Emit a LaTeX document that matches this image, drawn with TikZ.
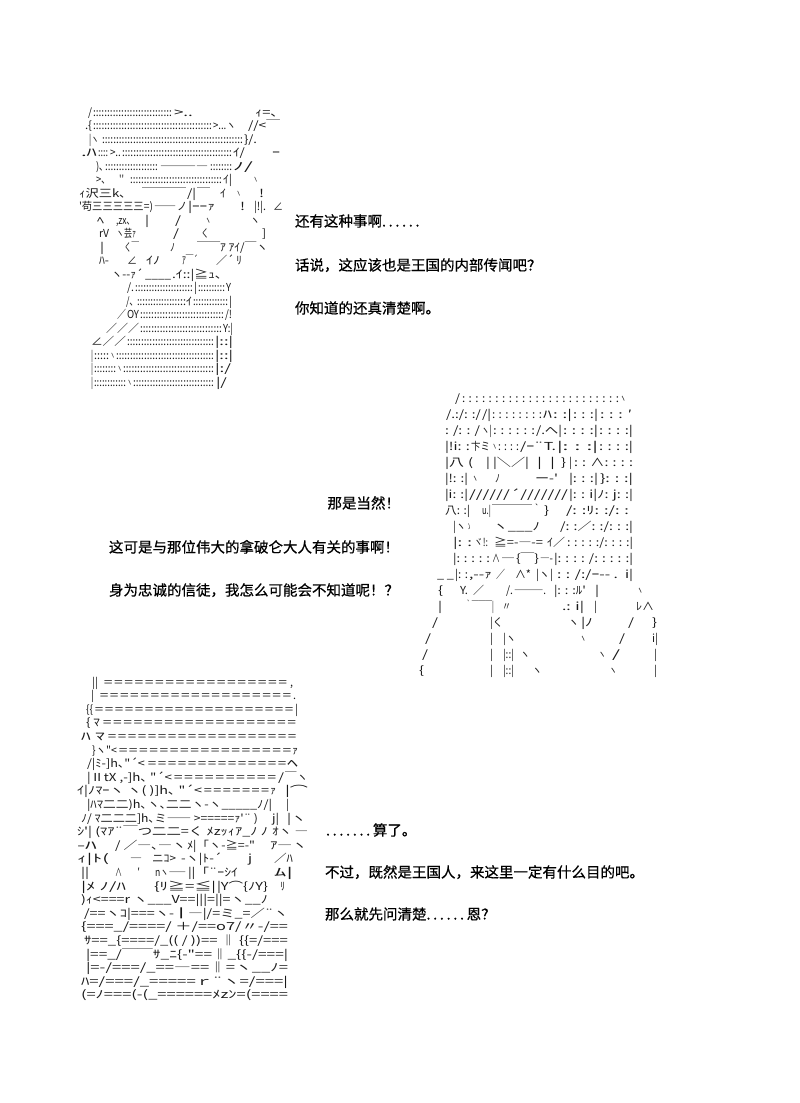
\documentclass[tikz,border=0pt]{standalone}
\usepackage{fontspec}
\usepackage{graphicx}
\newfontfamily\aafam{Noto Sans CJK JP}
\newfontfamily\zhfam[FakeBold=0.6]{Noto Sans CJK SC}
\newcommand\aafont{\aafam\fontsize{11pt}{13pt}\selectfont}
\newcommand\sayfont{\zhfam\fontsize{14.5pt}{17pt}\selectfont}
\newcommand\dt{\makebox[6.7pt][l]{.}}
\ExplSyntaxOn
\NewDocumentCommand\colons{m}{\prg_replicate:nn{#1}{:}}
\NewDocumentCommand\scol{m}{:\prg_replicate:nn{#1-1}{~:}}
\NewDocumentCommand\eqs{m}{\prg_replicate:nn{#1}{＝}}
\ExplSyntaxOff
\newcounter{nn}
\newcommand\seg[4]{%
  \pgfmathsetmacro\aaw{(#2)-(#1)}%
  \stepcounter{nn}%
  \node[aa] (aa\arabic{nn}) at ({#1},{-(#3)-4}) {\resizebox*{\aaw pt}{\totalheight}{#4}};}
\newcommand\A[4]{\seg{#1}{#2}{112+13.5*(#3-1)}{#4}}
\newcommand\B[4]{\seg{#1}{#2}{398+16*(#3-1)}{#4}}
\newcommand\C[4]{\seg{#1}{#2}{682+13.6*(#3-1)}{#4}}
\tikzset{
  aa/.style={anchor=base west, inner sep=0pt, outer sep=0pt, text=black!90, font=\aafont},
  say/.style={inner sep=0pt, outer sep=0pt, font=\sayfont, text=black}
}
\begin{document}
\begin{tikzpicture}[x=1pt,y=1pt]
\useasboundingbox (0,0) rectangle (800,-1103);
\fill[white] (0,0) rectangle (800,-1103);
% ---------------- AA 1 ----------------
\A{88}{92}{1}{/}\A{93}{172}{1}{\colons{28}}\A{174}{193}{1}{>..}\A{255}{278}{1}{ｨ=､}
\A{85}{92}{2}{.\{}\A{93}{212}{2}{\colons{42}}\A{213}{236}{2}{>...ヽ}\A{248}{280}{2}{//<￣}
\A{89}{99}{3}{|ヽ}\A{102}{243}{3}{\colons{50}}\A{244}{257}{3}{\}/.}
\A{81}{97}{4}{.ﾊ}\A{98}{108}{4}{\colons{4}}\A{110}{121}{4}{>..}\A{122}{232}{4}{\colons{39}}\A{233}{245}{4}{ｲ/}\A{272}{280}{4}{ｰ}
\A{96}{104}{5}{)､}\A{105}{158}{5}{\colons{19}}\A{160}{208}{5}{――――}\A{210}{232}{5}{\colons{8}}\A{233}{253}{5}{ﾉ/}
\A{96}{106}{6}{>､}\A{119}{124}{6}{''}\A{130}{222}{6}{\colons{33}}\A{223}{232}{6}{ｲ|}\A{253}{258}{6}{ヽ}
\A{79}{126}{7}{ｨ沢三k､}\A{142}{186}{7}{￣￣￣￣}\A{187}{196}{7}{/|}\A{197}{210}{7}{￣}\A{220}{226}{7}{ｲ}\A{236}{241}{7}{ヽ}\A{259}{264}{7}{!}
\A{79}{153}{8}{'苟三三三三三=)}\A{154}{176}{8}{――}\A{177}{187}{8}{ノ}\A{188}{215}{8}{|ｰｰｧ}\A{240}{245}{8}{!}\A{254}{266}{8}{|!|.}\A{273}{283}{8}{∠}
\A{97}{104}{9}{ﾍ}\A{116}{131}{9}{,zx､}\A{145}{149}{9}{|}\A{175}{181}{9}{/}\A{205}{211}{9}{ヽ}\A{250}{260}{9}{ヽ}
\A{99}{109}{10}{rV}\A{116}{136}{10}{ヽ芸ｧ}\A{173}{179}{10}{/}\A{201}{209}{10}{く}\A{262}{266}{10}{]}
\A{100}{104}{11}{|}\A{124}{139}{11}{く￣}\A{170}{175}{11}{ﾉ}\A{197}{268}{11}{￣￣ｱ ｱｲ/￣ヽ}
\A{99}{109}{12}{ﾊ-}\A{127}{137}{12}{∠}\A{146}{160}{12}{ｲﾉ}\A{182}{198}{12}{ｱ￣´}\A{216}{242}{12}{／´ ﾘ}
\A{111}{143}{13}{ヽ--ｧ´}\A{145}{171}{13}{\_\_\_\_}\A{172}{222}{13}{.ｲ::|≧ｭ､}
\A{127}{134}{14}{/.}\A{135}{193}{14}{\colons{21}}\A{194}{197}{14}{|}\A{198}{225}{14}{\colons{10}}\A{226}{231}{14}{Y}
\A{126}{134}{15}{/､}\A{137}{180}{15}{\colons{16}}\A{180}{186}{15}{::}\A{186}{192}{15}{ｲ}\A{193}{228}{15}{\colons{13}}\A{229}{232}{15}{|}
\A{117}{126}{16}{／}\A{127}{139}{16}{OY}\A{140}{224}{16}{\colons{30}}\A{225}{232}{16}{/!}
\A{106}{139}{17}{／／／}\A{140}{222}{17}{\colons{29}}\A{223}{233}{17}{Y:|}
\A{91}{126}{18}{∠／／}\A{127}{214}{18}{\colons{31}}\A{215}{233}{18}{|::|}
\A{91}{93}{19}{|}\A{94}{109}{19}{\colons{5}}\A{110}{115}{19}{ヽ}\A{116}{214}{19}{\colons{35}}\A{215}{233}{19}{|::|}
\A{91}{93}{20}{|}\A{94}{116}{20}{\colons{8}}\A{117}{122}{20}{ヽ}\A{123}{214}{20}{\colons{32}}\A{215}{231}{20}{|:/}
\A{91}{93}{21}{|}\A{94}{126}{21}{\colons{12}}\A{127}{132}{21}{ヽ}\A{133}{214}{21}{\colons{29}}\A{216}{227}{21}{|/}
% ---------------- AA 2 ----------------
\B{455}{460}{1}{/}\B{462}{619}{1}{\scol{24}}\B{620}{626}{1}{ヽ}
\B{446}{481}{2}{/.:/: :/}\B{482}{491}{2}{/|}\B{492}{542}{2}{\scol{8}}\B{543}{552}{2}{ﾊ}\B{553}{572}{2}{: :|}\B{573}{598}{2}{: : :|}\B{600}{632}{2}{: : : ′}
\B{445}{480}{3}{: /: : /}\B{481}{492}{3}{ヽ|}\B{493}{535}{3}{\scol{6}}\B{536}{562}{3}{/.へ|}\B{563}{598}{3}{: : : :|}\B{599}{633}{3}{: : : :|}
\B{445}{470}{4}{|!i: :}\B{471}{490}{4}{卞ミ}\B{492}{497}{4}{ヽ}\B{498}{519}{4}{: : : :}\B{520}{556}{4}{/ｰ¨T.}\B{557}{598}{4}{|: : :|}\B{599}{633}{4}{: : : :|}
\B{445}{464}{5}{|八}\B{468}{473}{5}{(}\B{486}{529}{5}{|\ |＼／|}\B{537}{555}{5}{|\ \ |}\B{561}{566}{5}{\}}\B{569}{572}{5}{|}\B{574}{633}{5}{: : ∧: : : :}
\B{445}{468}{6}{|!: :|}\B{472}{478}{6}{ヽ}\B{495}{500}{6}{ﾉ}\B{535}{558}{6}{ー-'}\B{569}{598}{6}{|: : :|}\B{600}{633}{6}{\}: : :|}
\B{445}{468}{7}{|i: :|}\B{469}{568}{7}{//////´///////}\B{569}{633}{7}{|: : i|ﾉ: j: :|}
\B{445}{470}{8}{八: :|}\B{482}{491}{8}{u.|}\B{492}{542}{8}{￣￣￣￣｀}\B{544}{549}{8}{\}}\B{566}{629}{8}{/: :ﾘ: :/: :}
\B{453}{466}{9}{|ヽ}\B{467}{471}{9}{ゝ}\B{493}{540}{9}{ヽ\_\_\_ﾉ}\B{560}{633}{9}{/: :／: :/: : :|}
\B{453}{472}{10}{|: :}\B{474}{488}{10}{ヾ!:}\B{494}{543}{10}{≧=-―-=}\B{547}{565}{10}{ｲ／}\B{567}{633}{10}{: : : : :/: : : :|}
\B{453}{490}{11}{|: : : : :}\B{492}{500}{11}{∧}\B{501}{515}{11}{―}\B{516}{539}{11}{\{￣\}}\B{540}{553}{11}{―-}\B{554}{633}{11}{|: : : : /: : : : :|}
\B{437}{454}{12}{\_ \_}\B{455}{468}{12}{|: :}\B{469}{492}{12}{,--ｧ}\B{496}{505}{12}{／}\B{515}{531}{12}{∧*}\B{536}{553}{12}{|ヽ|}\B{557}{618}{12}{: : /:/ｰ-- .}\B{625}{633}{12}{i|}
\B{438}{443}{13}{\{}\B{460}{468}{13}{Y.}\B{473}{484}{13}{／}\B{506}{513}{13}{/.}\B{514}{546}{13}{―――.}\B{554}{586}{13}{|: : :ﾙ'}\B{595}{599}{13}{|}\B{637}{643}{13}{ヽ}
\B{438}{442}{14}{|}\B{465}{494}{14}{｀￣￣￣|}\B{502}{511}{14}{〃}\B{562}{584}{14}{.: i|}\B{594}{597}{14}{|}\B{636}{654}{14}{ﾚ∧}
\B{432}{438}{15}{/}\B{490}{503}{15}{|く}\B{568}{579}{15}{ヽ}\B{581}{593}{15}{|ﾉ}\B{628}{634}{15}{/}\B{652}{657}{15}{\}}
\B{425}{431}{16}{/}\B{490}{493}{16}{|}\B{503}{516}{16}{|ヽ}\B{580}{586}{16}{ヽ}\B{619}{625}{16}{/}\B{652}{658}{16}{i|}
\B{422}{428}{17}{/}\B{490}{493}{17}{|}\B{503}{514}{17}{|::|}\B{520}{530}{17}{ヽ}\B{598}{606}{17}{ヽ}\B{612}{620}{17}{/}\B{654}{657}{17}{|}
\B{419}{424}{18}{\{}\B{490}{493}{18}{|}\B{503}{514}{18}{|::|}\B{532}{542}{18}{ヽ}\B{609}{617}{18}{ヽ}\B{654}{657}{18}{|}
% ---------------- AA 3 ----------------
\C{92}{98}{1}{||}\C{103}{288}{1}{\eqs{18}}\C{290}{293}{1}{,}
\C{91}{94}{2}{|}\C{99}{292}{2}{\eqs{19}}\C{293}{296}{2}{.}
\C{86}{93}{3}{\{\{}\C{94}{294}{3}{\eqs{20}}\C{295}{298}{3}{|}
\C{86}{100}{4}{\{ ﾏ}\C{102}{297}{4}{\eqs{19}}
\C{81}{105}{5}{ﾊ ﾏ}\C{107}{297}{5}{\eqs{19}}
\C{92}{117}{6}{\}ヽ"<}\C{118}{292}{6}{\eqs{17}}\C{292}{298}{6}{ｧ}
\C{87}{145}{7}{/|ﾐ-]h､"´<}\C{147}{287}{7}{\eqs{14}}\C{287}{298}{7}{ﾍ}
\C{87}{172}{8}{|ⅡtX ,-]h､ "´<}\C{173}{277}{8}{\eqs{10}}\C{278}{284}{8}{/}\C{285}{308}{8}{￣ヽ}
\C{77}{202}{9}{ｲ|ﾉﾏｰヽ ヽ( )]h､ "´<}\C{203}{270}{9}{\eqs{7}}\C{270}{276}{9}{ｧ}\C{285}{308}{9}{|⌒}
\C{87}{272}{10}{|ﾊﾏ二二)h､ヽ､二二ヽ-ヽ\_\_\_\_\_ﾉ/|}\C{286}{289}{10}{|}
\C{81}{258}{11}{ﾉ/ ﾏ二二二]h､ミ―― >=====ｧ'¨ )}\C{272}{279}{11}{j|}\C{287}{306}{11}{|ヽ}
\C{77}{268}{12}{ｼ'| (ﾏｱ¨￣つ二二=く ﾒzｯｨｱ\_ﾉ ﾉ}\C{272}{308}{12}{ｵヽ ―}
\C{77}{97}{13}{-ﾊ}\C{115}{186}{13}{/ ／―､―ヽ}\C{187}{255}{13}{ﾒ|「ヽ-≧=-"}\C{270}{307}{13}{ｱ―ヽ}
\C{77}{109}{14}{ｨ|ﾄ(}\C{130}{142}{14}{―}\C{152}{176}{14}{ニｺ>}\C{181}{222}{14}{-ヽ|ﾄ-´}\C{248}{252}{14}{j}\C{274}{293}{14}{／ﾊ}
\C{81}{89}{15}{||}\C{115}{122}{15}{∧}\C{137}{140}{15}{′}\C{155}{186}{15}{nヽ――}\C{188}{238}{15}{||「¨ｰｼｲ}\C{274}{293}{15}{ﾑ|}
\C{81}{126}{16}{|ﾒ ﾉ/ﾊ}\C{154}{216}{16}{\{ﾘ≧=≦|}\C{217}{268}{16}{|Y⌒\{ﾉY\}}\C{280}{285}{16}{ﾘ}
\C{81}{268}{17}{)ｨ<===r ヽ\_\_\_V==|||=||=ヽ\_\_ﾉ}
\C{84}{288}{18}{/==ヽｺ|===ヽ-┃―|/=ミ\_=／¨ヽ}
\C{81}{288}{19}{\{===\_/====/ ＋/==o7/〃-/==}
\C{84}{288}{20}{ｻ==\_\{====/\_(( / ))== ‖ \{\{=/===}
\C{86}{288}{21}{|==\_/￣￣ｻ\_ﾆ\{-"==‖\_\{\{-/===|}
\C{86}{288}{22}{|=-/===/\_==―==‖=ヽ\_\_ﾉ=}
\C{81}{288}{23}{ﾊ=/===/\_=====ｒ¨ヽ=/===|}
\C{81}{288}{24}{(=ﾉ===(-(\_======ﾒzﾝ=(====}
% ---------------- dialogue ----------------
\node[say, anchor=base west] (s1) at (295,-226.5) {还有这种事啊\dt\dt\dt\dt\dt\dt};
\node[say, anchor=base west] (s2) at (295,-270.5) {话说，这应该也是王国的内部传闻吧？};
\node[say, anchor=base west] (s3) at (295,-313.5) {你知道的还真清楚啊。};
\node[say, anchor=base east] (s4) at (400,-508.5) {那是当然！};
\node[say, anchor=base west] (s5) at (109,-552.5) {这可是与那位伟大的拿破仑大人有关的事啊！};
\node[say, anchor=base west] (s6) at (109,-595.5) {身为忠诚的信徒，我怎么可能会不知道呢！？};
\node[say, anchor=base west] (s7) at (326,-835.5) {\dt\dt\dt\dt\dt\dt\dt 算了。};
\node[say, anchor=base west] (s8) at (325,-877.5) {不过，既然是王国人，来这里一定有什么目的吧。};
\node[say, anchor=base west] (s9) at (325,-919.5) {那么就先问清楚\dt\dt\dt\dt\dt\dt 恩？};
\end{tikzpicture}
\end{document}
